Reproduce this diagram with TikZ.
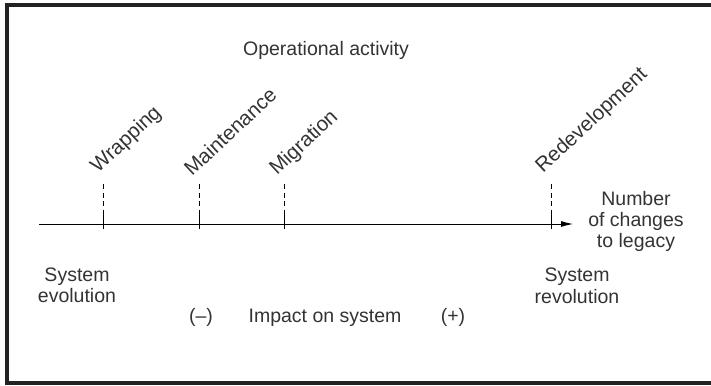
\documentclass[tikz,border=0pt]{standalone}
\usepackage{fontspec}
\setmainfont{Liberation Sans}
\usetikzlibrary{arrows.meta}
\definecolor{txt}{HTML}{333333}
\definecolor{frame}{HTML}{222222}
\begin{document}
\begin{tikzpicture}[x=1pt,y=-1pt,
  lbl/.style={inner sep=0pt, text=txt, font=\fontsize{19.5}{21.3}\selectfont},
  multi/.style={lbl, align=center, anchor=center},
  single/.style={lbl, anchor=base},
  rot/.style={lbl, anchor=base west, rotate=43, font=\fontsize{20.5}{24}\selectfont},
  tick/.style={line width=0.9pt, dash pattern=on 5pt off 3.5pt on 5pt off 3.5pt on 5pt off 3.5pt on 30pt},
  axis/.style={line width=0.9pt, -{Latex[length=12pt,width=6pt]}}]
\useasboundingbox (0,0) rectangle (711,385);
\draw[frame, line width=4pt] (7,5) rectangle (720,383);
% axis
\coordinate (a0) at (39,224);
\coordinate (a1) at (573,224);
\draw[axis] (a0) -- (a1);
% ticks
\foreach \n/\x in {w/103, m/199, g/284, r/551}{
  \coordinate (\n top) at (\x,184);
  \coordinate (\n bot) at (\x,229);
  \draw[tick] (\n top) -- (\n bot);
}
% rotated labels
\node[rot] (wrap) at (98,174) {Wrapping};
\node[rot] (main) at (192,177) {Maintenance};
\node[rot] (migr) at (277,176) {Migration};
\node[rot] (rede) at (543,174) {Redevelopment};
% texts
\node[single] (oper) at (326,56) {Operational activity};
\node[multi] (num) at (636,221.5) {Number\\of changes\\to legacy};
\node[multi] (evo) at (77,285.4) {System\\evolution};
\node[multi] (rev) at (577,285.8) {System\\revolution};
\node[single] (minus) at (201,322) {(–)};
\node[single] (impact) at (325,322) {Impact on system};
\node[single] (plus) at (453,322) {(+)};
\end{tikzpicture}
\end{document}
